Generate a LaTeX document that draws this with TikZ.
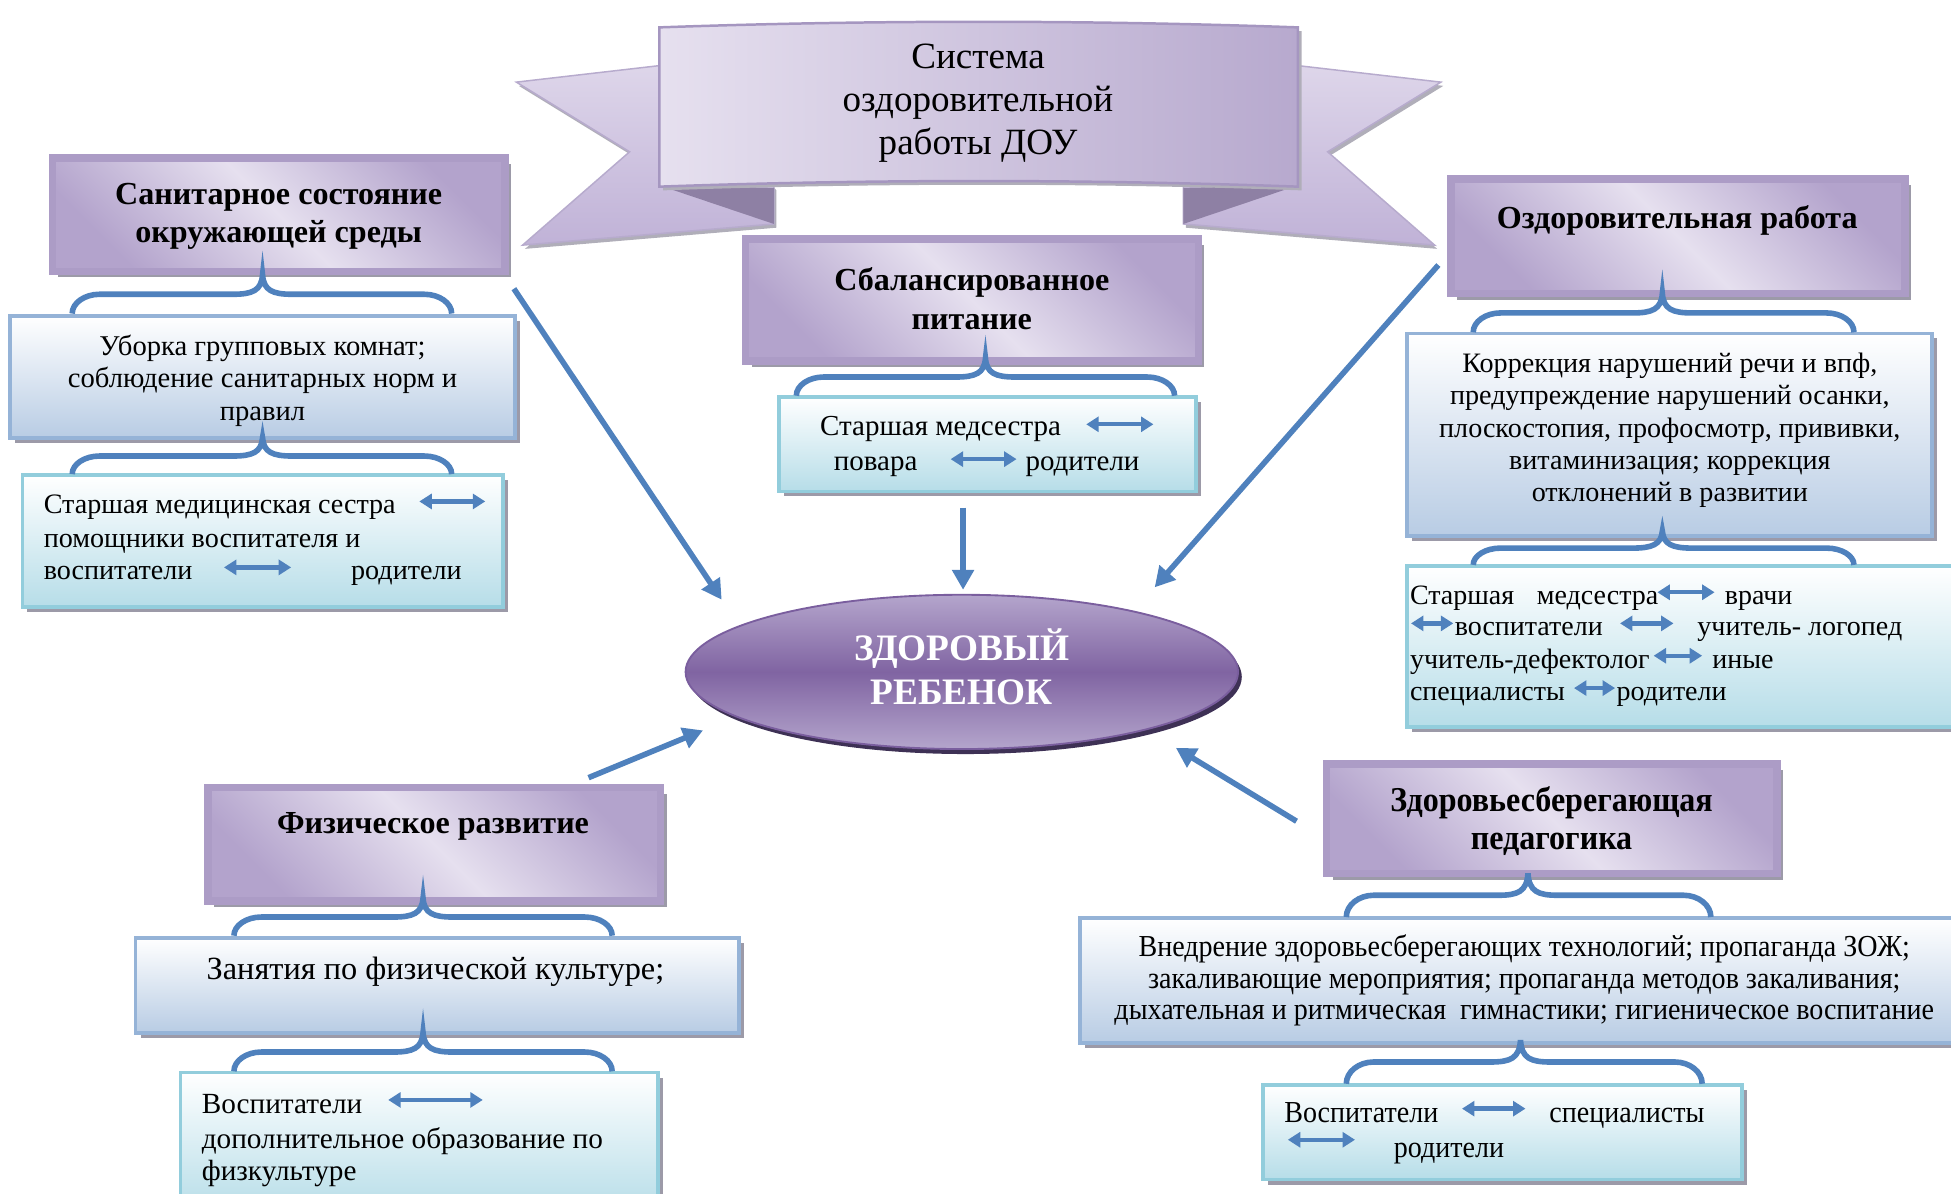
\documentclass[tikz,border=0pt]{standalone}
\usepackage{fontspec}
\setmainfont{Liberation Serif}
\newfontfamily\condfont[FakeStretch=0.92]{Liberation Serif}
\usetikzlibrary{shapes.geometric,shadows,arrows.meta}
\definecolor{hdrframe}{HTML}{AC9CC6}
\definecolor{hdrdark}{HTML}{B3A3CC}
\definecolor{hdrlight}{HTML}{E6E0EF}
\definecolor{shadowgray}{HTML}{9C9AA8}
\definecolor{bluebot}{HTML}{B8CCE4}
\definecolor{blueframe}{HTML}{95B3D7}
\definecolor{cyanbot}{HTML}{B6DDE8}
\definecolor{cyanframe}{HTML}{92CDDC}
\definecolor{arrblue}{HTML}{4F81BD}
\definecolor{elltop}{HTML}{B4A5CC}
\definecolor{ellmid}{HTML}{8064A2}
\definecolor{ellborder}{HTML}{7A5E9E}
\definecolor{ellshadow}{HTML}{3E3155}
\definecolor{panelL}{HTML}{E6E0EF}
\definecolor{panelR}{HTML}{B7A9CE}
\definecolor{panelframe}{HTML}{A596C0}
\definecolor{wingL}{HTML}{DED6EA}
\definecolor{wingD}{HTML}{C0B2D7}
\definecolor{foldcol}{HTML}{8E80A4}
\newcommand\mkbox[6]{%
  \pgfmathsetmacro\bcx{(#3+#5)/2}\pgfmathsetmacro\bcy{(#4+#6)/2}%
  \pgfmathsetmacro\bw{#5-#3}\pgfmathsetmacro\bh{#6-#4}%
  \node[#1, minimum width=\bw pt, minimum height=\bh pt, inner sep=0pt] (#2) at (\bcx,\bcy) {};}
\newcommand\ubr[5]{%
  \pgfmathsetmacro\bH{(#4+#5)/2}%
  \pgfmathsetmacro\bry{#5-\bH}%
  \draw[bracestyle] (#1,#5) .. controls (#1,#5-0.55*\bry) and (#1+10,\bH) .. (#1+22,\bH) -- (#2-24,\bH)
    .. controls (#2-8,\bH) and (#2-1,\bH-3) .. (#2,#4)
    .. controls (#2+1,\bH-3) and (#2+8,\bH) .. (#2+24,\bH) -- (#3-22,\bH)
    .. controls (#3-10,\bH) and (#3,#5-0.55*\bry) .. (#3,#5);}
\tikzset{
  hdrbox/.style={draw=hdrframe, line width=6pt, top color=hdrdark, bottom color=hdrdark, middle color=hdrlight, shading angle=-45,
    general shadow={fill=shadowgray, shadow xshift=5pt, shadow yshift=-5pt}},
  lvlone/.style={draw=blueframe, line width=3pt, top color=white, bottom color=bluebot,
    general shadow={fill=shadowgray, shadow xshift=4pt, shadow yshift=-4pt}},
  lvltwo/.style={draw=cyanframe, line width=3pt, top color=white, bottom color=cyanbot,
    general shadow={fill=shadowgray, shadow xshift=4pt, shadow yshift=-4pt}},
  wing/.style={top color=wingL, bottom color=wingD, draw=panelframe!80, line width=1.2pt,
    general shadow={fill=shadowgray!80, shadow xshift=2pt, shadow yshift=-3pt}},
  panel/.style={left color=panelL, right color=panelR, draw=panelframe, line width=2pt,
    general shadow={fill=shadowgray!80, shadow xshift=3pt, shadow yshift=-3pt}},
  bracestyle/.style={draw=arrblue, line width=4.5pt},
  bigarrow/.style={draw=arrblue, line width=4.5pt, -{Triangle[length=16pt,width=17pt]}},
  dbl/.style={draw=arrblue, line width=3.5pt, {Triangle[length=10pt,width=12pt]}-{Triangle[length=10pt,width=12pt]}},
  hdrtxt/.style={font=\fontsize{25.8}{31}\selectfont\bfseries, align=center, inner sep=0pt},
  hdrcond/.style={font=\condfont\fontsize{28}{31}\selectfont\bfseries, align=center, inner sep=0pt},
  body/.style={font=\fontsize{#1}{26}\selectfont, align=center, inner sep=0pt},
  body/.default=22.8,
  condbody/.style={font=\condfont\fontsize{24.5}{25.5}\selectfont, align=center, inner sep=0pt},
  ln/.style={font=\fontsize{#1}{26}\selectfont, inner sep=0pt, anchor=base west},
  ln/.default=22.6,
  condln/.style={font=\condfont\fontsize{24.5}{26}\selectfont, inner sep=0pt, anchor=base west},
  titletxt/.style={font=\fontsize{29.8}{34.5}\selectfont, align=center, inner sep=0pt},
  elltxt/.style={font=\fontsize{30}{35}\selectfont\bfseries, text=white, align=center, inner sep=0pt},
}
\begin{document}
\begin{tikzpicture}[x=1pt,y=-1pt]
\useasboundingbox (0,0) rectangle (1568,959);
\clip (0,0) rectangle (1568,959);
% ---- banner
\path[wing] (415,66) -- (545,51) -- (622,150) -- (622,180) -- (420,197) -- (506,122) -- cycle;
\path[wing] (1158,66) -- (1028,51) -- (951,150) -- (951,180) -- (1153,197) -- (1067,122) -- cycle;
\fill[foldcol] (530,149) -- (622,151) -- (622,180) -- cycle;
\fill[foldcol] (1043,149) -- (951,151) -- (951,180) -- cycle;
\path[panel] (530,22) .. controls (700,16) and (873,16) .. (1043,22) -- (1043,150) .. controls (873,144) and (700,144) .. (530,150) -- cycle;
\node[titletxt] (title) at (786,83) {Система\\оздоровительной\\работы ДОУ};
% ---- header boxes
\mkbox{hdrbox}{h1}{42}{127}{406}{218}
\mkbox{hdrbox}{h2}{599}{192}{963}{290}
\mkbox{hdrbox}{h3}{1166}{144}{1531}{236}
\mkbox{hdrbox}{h4}{167}{633}{531}{724}
\mkbox{hdrbox}{h5}{1066}{614}{1428}{702}
% ---- level one boxes
\mkbox{lvlone}{b1}{8}{254}{414}{352}
\mkbox{lvlone}{b3}{1131}{268}{1553}{431}
\mkbox{lvlone}{b4}{109}{754}{594}{830}
\mkbox{lvlone}{b5}{868}{738}{1575}{838}
% ---- level two boxes
\mkbox{lvltwo}{c1}{18}{382}{404}{488}
\mkbox{lvltwo}{c2}{626}{319}{961}{395}
\mkbox{lvltwo}{c3}{1131}{455}{1575}{584}
\mkbox{lvltwo}{c4}{145}{862}{529}{975}
\mkbox{lvltwo}{c5}{1015}{872}{1400}{948}
% ---- braces
\ubr{58}{211}{363}{221}{252}
\ubr{58}{211}{363}{352}{381}
\ubr{640}{792}{944}{288}{318}
\ubr{1184}{1336}{1490}{236}{267}
\ubr{1184}{1336}{1490}{427}{454}
\ubr{188}{340}{492}{722}{752}
\ubr{188}{340}{492}{830}{861}
\ubr{1082}{1228}{1375}{702}{737}
\ubr{1082}{1222}{1368}{836}{871}
% ---- central ellipse
\node[ellipse, draw=ellborder, line width=1.5pt, minimum width=444pt, minimum height=124pt, inner sep=0pt,
  top color=elltop, bottom color=elltop, middle color=ellmid,
  general shadow={fill=ellshadow, shadow xshift=3pt, shadow yshift=-4pt}] (child) at (773,540) {};
\node[elltxt] (ctext) at (773,536) {ЗДОРОВЫЙ\\РЕБЕНОК};
% ---- header texts
\node[hdrtxt] (t1) at (224,174) {Санитарное состояние\\окружающей среды};
\node[hdrtxt] (t2) at (781,240) {Сбалансированное\\питание};
\node[hdrtxt] (t3) at (1348,177) {Оздоровительная работа};
\node[hdrtxt] (t4) at (348,664) {Физическое развитие};
\node[hdrcond] (t5) at (1247,660) {Здоровьесберегающая\\педагогика};
% ---- level one texts
\node[body=23] (bt1) at (211,306) {Уборка групповых комнат;\\соблюдение санитарных норм и\\правил};
\node[body=22.6] (bt3) at (1342,346) {Коррекция нарушений речи и впф,\\предупреждение нарушений осанки,\\плоскостопия, профосмотр, прививки,\\витаминизация; коррекция\\отклонений в развитии};
\node[body=26] (bt4) at (350,781) {Занятия по физической культуре;};
\node[condbody] (bt5) at (1225,788) {Внедрение здоровьесберегающих технологий; пропаганда ЗОЖ;\\закаливающие мероприятия; пропаганда методов закаливания;\\дыхательная и ритмическая\ \ гимнастики; гигиеническое воспитание};
% ---- level two texts
\node[ln=22.6] (c1a) at (35,413) {Старшая медицинская сестра};
\node[ln=22.6] (c1b) at (35,440) {помощники воспитателя и};
\node[ln=22.6] (c1c) at (35,466) {воспитатели};
\node[ln=22.6] (c1d) at (282,466) {родители};
\node[ln=23.3] (c2a) at (659,350) {Старшая медсестра};
\node[ln=23.3] (c2b) at (670,378) {повара};
\node[ln=23.3] (c2c) at (824,378) {родители};
\node[ln=22.5] (c3a) at (1133,486) {Старшая};
\node[ln=22.5] (c3b) at (1235,486) {медсестра};
\node[ln=22.5] (c3c) at (1386,486) {врачи};
\node[ln=22.5] (c3d) at (1169,511) {воспитатели};
\node[ln=22.5] (c3e) at (1364,511) {учитель- логопед};
\node[ln=22.5] (c3f) at (1133,537) {учитель-дефектолог};
\node[ln=22.5] (c3g) at (1376,537) {иные};
\node[ln=22.5] (c3h) at (1133,563) {специалисты};
\node[ln=22.5] (c3i) at (1299,563) {родители};
\node[ln=23.5] (c4a) at (162,895) {Воспитатели};
\node[ln=23.5] (c4b) at (162,923) {дополнительное образование по};
\node[ln=23.5] (c4c) at (162,949) {физкультуре};
\node[condln] (c5a) at (1032,902) {Воспитатели};
\node[condln] (c5b) at (1245,902) {специалисты};
\node[condln] (c5c) at (1120,930) {родители};
% ---- small double arrows
\draw[dbl] (337,403) -- (390,403);
\draw[dbl] (180,456) -- (234,456);
\draw[dbl] (873,341) -- (927,341);
\draw[dbl] (764,369) -- (817,369);
\draw[dbl] (1332,476) -- (1378,476);
\draw[dbl] (1134,501) -- (1168,501);
\draw[dbl] (1302,501) -- (1345,501);
\draw[dbl] (1329,527) -- (1368,527);
\draw[dbl] (1265,553) -- (1298,553);
\draw[dbl] (312,884) -- (388,884);
\draw[dbl] (1175,891) -- (1226,891);
\draw[dbl] (1035,916) -- (1089,916);
% ---- big arrows
\coordinate (a1s) at (413,232); \coordinate (a1e) at (580,482);
\coordinate (a2s) at (774,408); \coordinate (a2e) at (774,474);
\coordinate (a3s) at (1156,213); \coordinate (a3e) at (928,472);
\coordinate (a4s) at (473,625); \coordinate (a4e) at (565,587);
\coordinate (a5s) at (1042,660); \coordinate (a5e) at (945,601);
\draw[bigarrow] (a1s) -- (a1e);
\draw[bigarrow] (a2s) -- (a2e);
\draw[bigarrow] (a3s) -- (a3e);
\draw[bigarrow] (a4s) -- (a4e);
\draw[bigarrow] (a5s) -- (a5e);
\end{tikzpicture}
\end{document}
